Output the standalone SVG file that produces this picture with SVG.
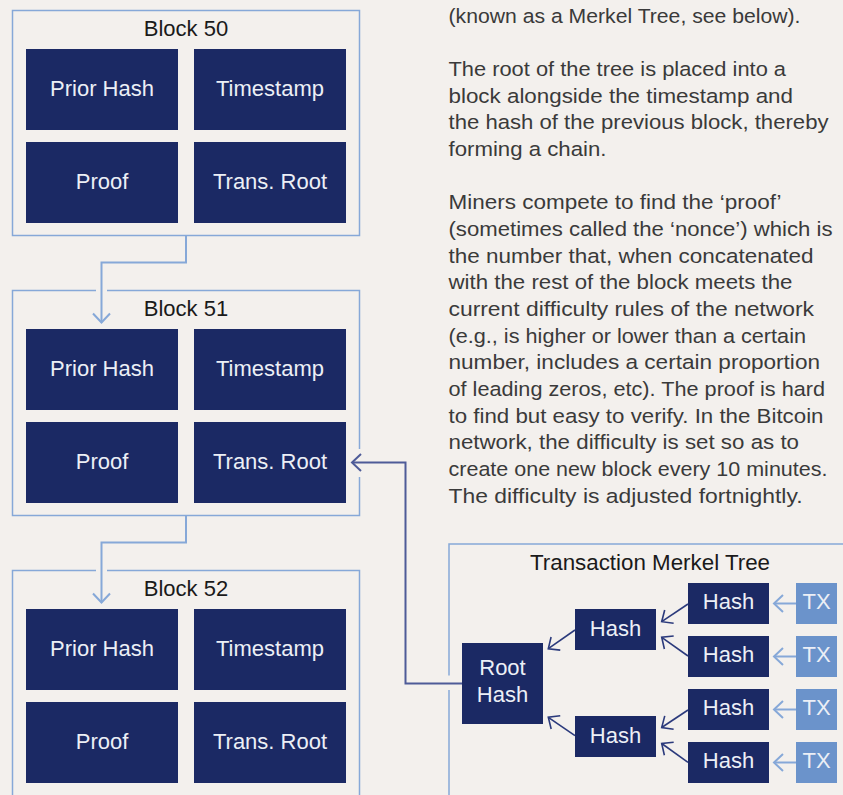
<svg xmlns="http://www.w3.org/2000/svg" width="843" height="795" viewBox="0 0 843 795">
<style>
.bg{fill:#f3f0ed}
.frame{fill:none;stroke:#86a8d8;stroke-width:1.5}
.box{fill:#1b2964}
.tx{fill:#6b93cb}
.lbl{font-family:"Liberation Sans",Arial,sans-serif;font-size:22px;fill:#eceff6;text-anchor:middle}
.ttl{font-family:"Liberation Sans",Arial,sans-serif;font-size:22px;fill:#1a1a1a;text-anchor:middle}
.para{font-family:"Liberation Sans",Arial,sans-serif;font-size:20.5px;fill:#3a3a3a}
.lb{fill:none;stroke:#86a8d8;stroke-width:2}
.mb{fill:none;stroke:#4e5b98;stroke-width:2}
.db{fill:none;stroke:#2b3a7c;stroke-width:1.6}
</style>
<defs>
<marker id="aL" markerUnits="userSpaceOnUse" viewBox="-12 -12 24 24" markerWidth="24" markerHeight="24" orient="auto" refX="0" refY="0"><path d="M-9,-8.5 L0,0 L-9,8.5" fill="none" stroke="#86a8d8" stroke-width="2"/></marker>
<marker id="aM" markerUnits="userSpaceOnUse" viewBox="-12 -12 24 24" markerWidth="24" markerHeight="24" orient="auto" refX="0" refY="0"><path d="M-9,-8.5 L0,0 L-9,8.5" fill="none" stroke="#4e5b98" stroke-width="2"/></marker>
<marker id="aD" markerUnits="userSpaceOnUse" viewBox="-12 -12 24 24" markerWidth="24" markerHeight="24" orient="auto" refX="0" refY="0"><path d="M-9,-8 L0,0 L-9,8" fill="none" stroke="#2b3a7c" stroke-width="1.6"/></marker>
</defs>
<rect class="bg" x="0" y="0" width="843" height="795"/>

<g id="block50">
<rect class="frame" x="12.5" y="10.5" width="347" height="225"/>
<text class="ttl" x="186" y="36">Block 50</text>
<rect class="box" x="26" y="49" width="152" height="81"/><text class="lbl" x="102" y="96">Prior Hash</text>
<rect class="box" x="194" y="49" width="152" height="81"/><text class="lbl" x="270" y="96">Timestamp</text>
<rect class="box" x="26" y="142" width="152" height="81"/><text class="lbl" x="102" y="189">Proof</text>
<rect class="box" x="194" y="142" width="152" height="81"/><text class="lbl" x="270" y="189">Trans. Root</text>
</g>

<g id="block51">
<path class="frame" d="M107,290.5 H359.5 V449 M359.5,477 V515.5 H12.5 V290.5 H96"/>
<text class="ttl" x="186" y="316">Block 51</text>
<rect class="box" x="26" y="329" width="152" height="81"/><text class="lbl" x="102" y="376">Prior Hash</text>
<rect class="box" x="194" y="329" width="152" height="81"/><text class="lbl" x="270" y="376">Timestamp</text>
<rect class="box" x="26" y="422" width="152" height="81"/><text class="lbl" x="102" y="469">Proof</text>
<rect class="box" x="194" y="422" width="152" height="81"/><text class="lbl" x="270" y="469">Trans. Root</text>
</g>

<g id="block52">
<path class="frame" d="M107,570.5 H359.5 V800 M12.5,800 V570.5 H96"/>
<text class="ttl" x="186" y="596">Block 52</text>
<rect class="box" x="26" y="609" width="152" height="81"/><text class="lbl" x="102" y="656">Prior Hash</text>
<rect class="box" x="194" y="609" width="152" height="81"/><text class="lbl" x="270" y="656">Timestamp</text>
<rect class="box" x="26" y="702" width="152" height="81"/><text class="lbl" x="102" y="749">Proof</text>
<rect class="box" x="194" y="702" width="152" height="81"/><text class="lbl" x="270" y="749">Trans. Root</text>
</g>

<g id="merkle">
<path class="frame" d="M449,690 V800 M449,675.5 V544 H850"/>
<text class="ttl" x="650" y="570" textLength="240" lengthAdjust="spacingAndGlyphs">Transaction Merkel Tree</text>
</g>
<g id="root"><rect class="box" x="462" y="643" width="81" height="81"/><text class="lbl" x="502.5" y="674.5">Root</text><text class="lbl" x="502.5" y="702">Hash</text></g>
<g id="mid1"><rect class="box" x="575" y="609" width="81" height="41"/><text class="lbl" x="615.5" y="635.5">Hash</text></g>
<g id="mid2"><rect class="box" x="575" y="716" width="81" height="41"/><text class="lbl" x="615.5" y="742.5">Hash</text></g>
<g id="leaf1"><rect class="box" x="688" y="583" width="81" height="41"/><text class="lbl" x="728.5" y="609">Hash</text></g>
<g id="leaf2"><rect class="box" x="688" y="636" width="81" height="41"/><text class="lbl" x="728.5" y="662">Hash</text></g>
<g id="leaf3"><rect class="box" x="688" y="689" width="81" height="41"/><text class="lbl" x="728.5" y="715">Hash</text></g>
<g id="leaf4"><rect class="box" x="688" y="742" width="81" height="41"/><text class="lbl" x="728.5" y="768">Hash</text></g>
<g id="tx1"><rect class="tx" x="796" y="583" width="41" height="41"/><text class="lbl" x="816.5" y="609">TX</text></g>
<g id="tx2"><rect class="tx" x="796" y="636" width="41" height="41"/><text class="lbl" x="816.5" y="662">TX</text></g>
<g id="tx3"><rect class="tx" x="796" y="689" width="41" height="41"/><text class="lbl" x="816.5" y="715">TX</text></g>
<g id="tx4"><rect class="tx" x="796" y="742" width="41" height="41"/><text class="lbl" x="816.5" y="768">TX</text></g>

<g id="connectors">
<path class="lb" d="M186,235.5 V262.5 H101.5 V322.5" marker-end="url(#aL)"/>
<path class="lb" d="M186,515.5 V542.5 H101.5 V602.5" marker-end="url(#aL)"/>
<path class="mb" d="M462,683.5 H405.5 V462.5 H352" marker-end="url(#aM)"/>
<path class="lb" d="M796,603.5 H774" marker-end="url(#aL)"/>
<path class="lb" d="M796,656.5 H774" marker-end="url(#aL)"/>
<path class="lb" d="M796,709.5 H774" marker-end="url(#aL)"/>
<path class="lb" d="M796,762.5 H774" marker-end="url(#aL)"/>
<path class="db" d="M688,604 L661.7,621.7" marker-end="url(#aD)"/>
<path class="db" d="M688,656 L661.7,637.3" marker-end="url(#aD)"/>
<path class="db" d="M688,710 L661.7,727.5" marker-end="url(#aD)"/>
<path class="db" d="M688,762.3 L661.7,743.5" marker-end="url(#aD)"/>
<path class="db" d="M575,630 L548.3,648.7" marker-end="url(#aD)"/>
<path class="db" d="M575,735.7 L548.3,717.3" marker-end="url(#aD)"/>
</g>

<g id="text">
<text class="para" x="448.5" y="22.8" textLength="352" lengthAdjust="spacingAndGlyphs">(known as a Merkel Tree, see below).</text>
<text class="para" x="448.5" y="76.1" textLength="337.5" lengthAdjust="spacingAndGlyphs">The root of the tree is placed into a</text>
<text class="para" x="448.5" y="102.75" textLength="344.5" lengthAdjust="spacingAndGlyphs">block alongside the timestamp and</text>
<text class="para" x="448.5" y="129.4" textLength="380" lengthAdjust="spacingAndGlyphs">the hash of the previous block, thereby</text>
<text class="para" x="448.5" y="156.05" textLength="158" lengthAdjust="spacingAndGlyphs">forming a chain.</text>
<text class="para" x="448.5" y="209.35" textLength="333" lengthAdjust="spacingAndGlyphs">Miners compete to find the ‘proof’</text>
<text class="para" x="448.5" y="236" textLength="384" lengthAdjust="spacingAndGlyphs">(sometimes called the ‘nonce’) which is</text>
<text class="para" x="448.5" y="262.65" textLength="365" lengthAdjust="spacingAndGlyphs">the number that, when concatenated</text>
<text class="para" x="448.5" y="289.3" textLength="344" lengthAdjust="spacingAndGlyphs">with the rest of the block meets the</text>
<text class="para" x="448.5" y="315.95" textLength="365.5" lengthAdjust="spacingAndGlyphs">current difficulty rules of the network</text>
<text class="para" x="448.5" y="342.6" textLength="357.5" lengthAdjust="spacingAndGlyphs">(e.g., is higher or lower than a certain</text>
<text class="para" x="448.5" y="369.25" textLength="371.5" lengthAdjust="spacingAndGlyphs">number, includes a certain proportion</text>
<text class="para" x="448.5" y="395.9" textLength="376.5" lengthAdjust="spacingAndGlyphs">of leading zeros, etc). The proof is hard</text>
<text class="para" x="448.5" y="422.55" textLength="375" lengthAdjust="spacingAndGlyphs">to find but easy to verify. In the Bitcoin</text>
<text class="para" x="448.5" y="449.2" textLength="350.5" lengthAdjust="spacingAndGlyphs">network, the difficulty is set so as to</text>
<text class="para" x="448.5" y="475.85" textLength="379" lengthAdjust="spacingAndGlyphs">create one new block every 10 minutes.</text>
<text class="para" x="448.5" y="502.5" textLength="354" lengthAdjust="spacingAndGlyphs">The difficulty is adjusted fortnightly.</text>
</g>
</svg>
